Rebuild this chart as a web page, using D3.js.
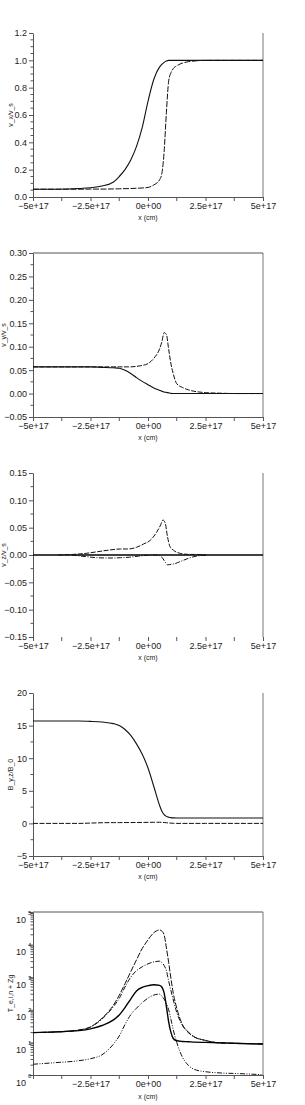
<!DOCTYPE html>
<html><head><meta charset="utf-8">
<script src="https://cdn.jsdelivr.net/npm/d3@7"></script>
<style>
html,body{margin:0;padding:0;background:#fff;}
svg{display:block;}
text{font-family:"Liberation Sans",Arial,Helvetica,sans-serif;fill:#222;}
</style>
</head><body>
<svg id="c" width="305" height="1105"></svg>
<script>
// ---------- DATA ----------
const xTickVals = [-5e17, -2.5e17, 0, 2.5e17, 5e17];
const xTickLabels = ["\u22125e+17", "\u22122.5e+17", "0e+00", "2.5e+17", "5e+17"];
const xMinorVals = [-3.75e17, -1.25e17, 1.25e17, 3.75e17];
const xTitle = "x (cm)";

// common x grid (cm)
const gridX = [-5e17,-4e17,-3e17,-2.5e17,-2e17,-1.5e17,-1.25e17,-1e17,-0.75e17,-0.5e17,-0.25e17,0,0.25e17,0.5e17,0.6e17,0.7e17,0.8e17,0.9e17,1.0e17,1.1e17,1.25e17,1.5e17,1.75e17,2e17,2.5e17,3e17,4e17,5e17];

// Panel 1: v_x / v_s
const vxTicks = [0, 0.2, 0.4, 0.6, 0.8, 1.0, 1.2];
const vxA = [0.057,0.057,0.062,0.068,0.08,0.11,0.15,0.2,0.27,0.37,0.51,0.70,0.86,0.95,0.97,0.985,0.995,1.0,1.0,1.0,1.0,1.0,1.0,1.0,1.0,1.0,1.0,1.0];
const vxB = [0.057,0.057,0.057,0.058,0.058,0.059,0.06,0.061,0.062,0.064,0.066,0.07,0.088,0.125,0.17,0.33,0.62,0.85,0.91,0.94,0.96,0.98,0.99,0.995,1.0,1.0,1.0,1.0];

// Panel 2: v_y / v_s
const vyTicks = [-0.05, 0, 0.05, 0.10, 0.15, 0.20, 0.25, 0.30];
const vyPeak = [0.057,0.057,0.057,0.057,0.057,0.057,0.057,0.057,0.057,0.058,0.06,0.064,0.075,0.095,0.11,0.13,0.126,0.094,0.063,0.042,0.021,0.013,0.008,0.005,0.002,0.001,0,0];
const vyDrop = [0.057,0.057,0.057,0.057,0.056,0.055,0.054,0.05,0.043,0.034,0.026,0.019,0.012,0.007,0.005,0.0035,0.0025,0.0015,0.0005,0,0,0,0,0,0,0,0,0];

// Panel 3: v_z / v_s
const vzTicks = [-0.15, -0.10, -0.05, 0, 0.05, 0.10, 0.15];
const vzZeroX = [-5e17, 5e17];
const vzZeroY = [0, 0];
const vzPosX = [-3.9e17,-3.3e17,-2.7e17,-2.2e17,-1.7e17,-1.2e17,-0.9e17,-0.5e17,-0.2e17,0.1e17,0.35e17,0.55e17,0.65e17,0.75e17,0.85e17,0.95e17,1.1e17,1.4e17,1.8e17,2.2e17,2.5e17];
const vzPosY = [0.0,0.001,0.003,0.006,0.009,0.011,0.011,0.014,0.02,0.027,0.04,0.055,0.064,0.058,0.033,0.016,0.009,0.003,0.001,0.001,0.0];
const vzNegX = [-3.3e17,-2.7e17,-2.2e17,-1.7e17,-1.2e17,-0.8e17,-0.4e17,0,0.4e17,0.6e17,0.75e17,0.85e17,1.0e17,1.15e17,1.4e17,1.7e17,2.0e17,2.3e17,2.6e17];
const vzNegY = [0,-0.003,-0.005,-0.0055,-0.005,-0.004,-0.002,-0.0005,0,-0.004,-0.013,-0.018,-0.017,-0.016,-0.012,-0.007,-0.003,-0.001,0];

// Panel 4: B_y,z / B_0
const bTicks = [-5, 0, 5, 10, 15, 20];
const bY = [15.7,15.7,15.7,15.65,15.55,15.3,15.0,14.4,13.5,12.2,10.6,8.5,5.7,2.8,1.9,1.35,1.08,0.95,0.88,0.84,0.82,0.82,0.82,0.82,0.82,0.82,0.82,0.82];
const bZ = [0,0,0,0.05,0.1,0.12,0.12,0.13,0.13,0.14,0.15,0.16,0.17,0.18,0.16,0.14,0.1,0.07,0.04,0.02,0,0,0,0,0,0,0,0];

// Panel 5: temperatures (log)
const tExps = [0, 1, 2, 3, 4, 5];
const tSolid = [20,21,23,26,33,49,69,117,214,380,490,550,589,562,501,331,126,42,20,13.2,11.2,10.7,10.5,10.2,10.0,9.8,9.3,8.9];
const tDash = [20,21,24,30,55,140,280,630,1480,3400,7600,14000,23000,28000,26000,20000,7900,2800,890,320,112,35,21,15,11.5,9.8,9.3,8.9];
const tDashDot = [20,21,24,29.5,52,126,224,501,1000,1585,2089,2570,2951,3100,2818,2291,1585,759,380,200,83,33,20,14.8,11.5,9.8,9.3,8.9];
const tLow = [2.14,2.4,2.75,3.16,4.17,8.9,15.8,35.5,70.8,112,166,229,282,302,263,214,158,100,50,24,10,3.5,2.0,1.5,1.26,1.17,1.1,1.02];

// ---------- DRAWING ----------
const svg = d3.select("#c");
const X0 = 33, X1 = 263;
const x = d3.scaleLinear().domain([-5e17, 5e17]).range([X0, X1]);
const AX = "#555";

function zip(xs, ys){ return xs.map((v,i)=>[v, ys[i]]); }

function panel(o){
  const g = svg.append("g");
  const y = (o.log ? d3.scaleLog() : d3.scaleLinear()).domain(o.yDomain).range([o.bottom, o.top]);

  // left axis
  const la = g.append("g").attr("transform", `translate(${X0},0)`)
    .call(d3.axisLeft(y).tickValues(o.yTicks).tickFormat(o.log ? () => "" : o.yFmt).tickSize(4).tickPadding(2).tickSizeOuter(0));
  la.select(".domain").attr("stroke", AX);
  la.selectAll(".tick line").attr("stroke", AX);
  la.selectAll("text").attr("font-size", 9).attr("fill", "#222")
    .attr("font-family", '"Liberation Sans",Arial,sans-serif');
  g.selectAll(".ym").data(o.yMinor).join("line")
    .attr("x1", X0 - 2.5).attr("x2", X0).attr("y1", d => y(d)).attr("y2", d => y(d))
    .attr("stroke", AX);

  // bottom axis
  const ba = g.append("g").attr("transform", `translate(0,${o.bottom})`)
    .call(d3.axisBottom(x).tickValues(xTickVals)
      .tickFormat((d,i) => (o.log && i === 0) ? "" : xTickLabels[i])
      .tickSize(4).tickPadding(2).tickSizeOuter(0));
  if (o.noBottomLine) ba.select(".domain").remove();
  else ba.select(".domain").attr("stroke", AX);
  ba.selectAll(".tick line").attr("stroke", AX);
  ba.selectAll("text").attr("font-size", 9).attr("fill", "#222")
    .attr("font-family", '"Liberation Sans",Arial,sans-serif');
  g.selectAll(".xm").data(xMinorVals).join("line")
    .attr("x1", d => x(d)).attr("x2", d => x(d)).attr("y1", o.bottom).attr("y2", o.bottom + 4)
    .attr("stroke", AX);

  // frame pieces
  g.append("line").attr("x1", X1).attr("x2", X1).attr("y1", o.top).attr("y2", o.bottom)
    .attr("stroke", "#777");
  if (o.topLine) g.append("line").attr("x1", X0).attr("x2", X1).attr("y1", o.top).attr("y2", o.top)
    .attr("stroke", AX);

  // log labels 10^k
  if (o.log) {
    o.yTicks.forEach((v, k) => {
      const yy = y(v);
      g.append("text").attr("x", 26).attr("y", yy + 10.5).attr("text-anchor", "end")
        .attr("font-size", 9).text("10");
      g.append("text").attr("x", 28).attr("y", yy + 2.5).attr("text-anchor", "start")
        .attr("font-size", 6).text(tExps[k]);
    });
  }

  // titles
  g.append("text").attr("x", x(0)).attr("y", o.bottom + (o.log ? 24 : 23)).attr("text-anchor", "middle")
    .attr("font-size", 7).text(xTitle);
  g.append("text").attr("transform", `translate(${o.titleX},${(o.top + o.bottom) / 2}) rotate(-90)`)
    .attr("text-anchor", "middle").attr("font-size", 7).text(o.title);

  // series
  const line = d3.line().x(d => x(d[0])).y(d => y(d[1])).curve(d3.curveMonotoneX);
  o.series.forEach(s => {
    g.append("path").attr("d", line(zip(s.x, s.y)))
      .attr("fill", "none").attr("stroke", s.color || "#111")
      .attr("stroke-width", s.w || 1)
      .attr("stroke-dasharray", s.dash || null);
  });
}

panel({ top: 33, bottom: 197, yDomain: [0, 1.2], yTicks: vxTicks, yFmt: d3.format(".1f"),
  yMinor: d3.range(0.05, 1.2, 0.05).filter(v => Math.abs(v*5 - Math.round(v*5)) > 1e-6),
  title: "v_x/v_s", titleX: 13, topLine: false,
  series: [
    { x: gridX, y: vxA, w: 1.1 },
    { x: gridX, y: vxB, w: 1, dash: "6,1.5" }
  ]});

panel({ top: 253, bottom: 417, yDomain: [-0.05, 0.30], yTicks: vyTicks, yFmt: d3.format(".2f"),
  yMinor: d3.range(-0.025, 0.3, 0.05),
  title: "v_y/v_s", titleX: 6, topLine: true,
  series: [
    { x: gridX, y: vyDrop, w: 1.1 },
    { x: gridX, y: vyPeak, w: 1, dash: "5,1.5" }
  ]});

panel({ top: 473, bottom: 637, yDomain: [-0.15, 0.15], yTicks: vzTicks, yFmt: d3.format(".2f"),
  yMinor: d3.range(-0.125, 0.15, 0.05),
  title: "v_z/v_s", titleX: 6, topLine: false, noBottomLine: true,
  series: [
    { x: vzZeroX, y: vzZeroY, w: 1.5, color: "#000" },
    { x: vzPosX, y: vzPosY, w: 1, dash: "5,1.5" },
    { x: vzNegX, y: vzNegY, w: 1, dash: "5,1.5,1,1.5" }
  ]});

panel({ top: 693, bottom: 856, yDomain: [-5, 20], yTicks: bTicks, yFmt: d3.format("d"),
  yMinor: d3.range(-2.5, 20, 5),
  title: "B_y,z/B_0", titleX: 13, topLine: false,
  series: [
    { x: gridX, y: bY, w: 1.1 },
    { x: gridX, y: bZ, w: 1, dash: "5,1.5" }
  ]});

const logMinor = [];
for (let k = 0; k < 5; k++) for (let m = 2; m <= 9; m++) logMinor.push(m * Math.pow(10, k));
panel({ top: 912, bottom: 1075, log: true, yDomain: [1, 1e5], yTicks: tExps.map(k => Math.pow(10, k)),
  yMinor: logMinor, title: "T_e,i,n + Zg", titleX: 13, topLine: true,
  series: [
    { x: gridX, y: tLow, w: 1, dash: "5,1.5,1,1.5,1,1.5" },
    { x: gridX, y: tDashDot, w: 1, dash: "5,1.5,1,1.5" },
    { x: gridX, y: tDash, w: 1, dash: "6,1.5" },
    { x: gridX, y: tSolid, w: 1.4, color: "#000" }
  ]});
</script>
</body></html>
